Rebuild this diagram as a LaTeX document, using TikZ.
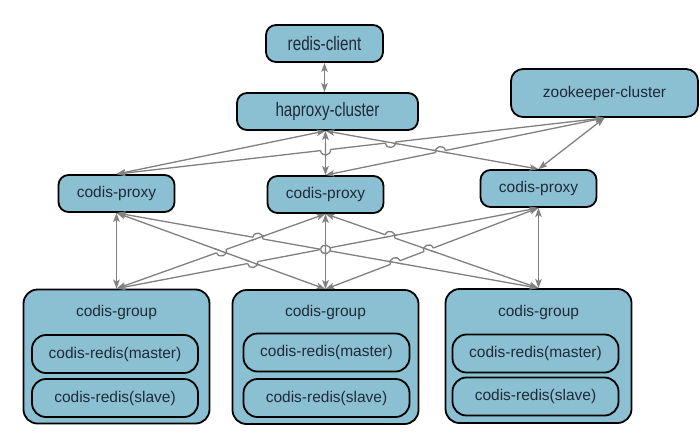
\documentclass[tikz,border=0pt]{standalone}
\usepackage{fontspec}
\setmainfont{Liberation Sans}
\newfontfamily\narrowfont{Liberation Sans}[FakeStretch=0.78]
\usetikzlibrary{arrows.meta,calc,intersections}
\definecolor{boxfill}{RGB}{139,192,211}
\definecolor{txt}{RGB}{32,42,56}
\definecolor{conn}{RGB}{128,128,128}
\tikzset{
  box/.style={draw=black, line width=1.8pt, fill=boxfill, rounded corners=10pt,
    inner sep=0pt, text=txt, font=\fontsize{15.5}{18}\selectfont},
  narrowbox/.style={box, font=\narrowfont\fontsize{19.5}{22}\selectfont},
  grpbox/.style={box, rounded corners=14pt, minimum width=186pt, minimum height=134pt},
  redisbox/.style={box, rounded corners=14pt, minimum width=166pt, minimum height=38pt},
  proxybox/.style={box, minimum width=116pt, minimum height=37pt},
  grplabel/.style={text=txt, font=\fontsize{15.5}{18}\selectfont, inner sep=0pt},
  wire/.style={draw=conn, line width=1.3pt},
  link/.style={wire, {Stealth[length=9pt,width=6.5pt,inset=2pt]}-{Stealth[length=9pt,width=6.5pt,inset=2pt]}},
  eraser/.style={draw=white, line width=3.5pt},
}
\begin{document}
\begin{tikzpicture}[x=1pt,y=-1pt]
\useasboundingbox (0,0) rectangle (700,434);
% top nodes
\node[narrowbox, minimum width=117pt, minimum height=37pt] (rc) at (324.5,43.5) {redis-client};
\node[narrowbox, minimum width=181pt, minimum height=37pt] (h) at (327.5,111.5) {haproxy-cluster};
\node[box, rounded corners=12pt, minimum width=187pt, minimum height=48pt] (z) at (604.5,93) {zookeeper-cluster};
% proxies
\node[proxybox] (p1) at (116.5,193.5) {codis-proxy};
\node[proxybox] (p2) at (325.5,194.5) {codis-proxy};
\node[proxybox] (p3) at (538.5,188.5) {codis-proxy};
% groups
\node[grpbox] (g1) at (116.5,356.5) {};
\node[grpbox] (g2) at (325.5,357) {};
\node[grpbox] (g3) at (538.5,356) {};
\node[grplabel] (g1l) at (116.5,312) {codis-group};
\node[grplabel] (g2l) at (325.5,312) {codis-group};
\node[grplabel] (g3l) at (538.5,312) {codis-group};
\node[redisbox] (m1) at (115,354) {codis-redis(master)};
\node[redisbox] (s1) at (115,398) {codis-redis(slave)};
\node[redisbox] (m2) at (326.5,352.5) {codis-redis(master)};
\node[redisbox] (s2) at (326.5,398) {codis-redis(slave)};
\node[redisbox] (m3) at (535.5,353.5) {codis-redis(master)};
\node[redisbox] (s3) at (535.5,396.5) {codis-redis(slave)};
\coordinate (hs) at (h.south -| p2.north);
% connectors
\draw[link] (rc.south) -- (rc.south |- h.north);
\draw[link] (hs) -- (p1.north);
\draw[link] (hs) -- (p2.north);
\draw[link] (hs) -- (p3.north);
\draw[link] (z.south) -- (p1.north);
\draw[link] (z.south) -- (p2.north);
\draw[link] (z.south) -- (p3.north);
\foreach \pp in {p1,p2,p3}{
  \foreach \gg in {g1,g2,g3}{
    \draw[link] (\pp.south) -- (\gg.north);
  }
}
% line jumps: A-start/A-end/B-start/B-end/angle1/angle2
\def\jumplist{
  p1.north/z.south/hs/p2.north/-90/90,
  p1.north/z.south/hs/p3.north/-90/90,
  p2.north/z.south/hs/p3.north/90/270,
  g1.north/p2.south/p1.south/g2.north/-90/90,
  p1.south/g3.north/p2.south/g1.north/90/270,
  g1.north/p3.south/p1.south/g2.north/-90/90,
  p1.south/g3.north/p2.south/g2.north/90/270,
  g1.north/p3.south/p2.south/g2.north/-90/90,
  p2.south/g3.north/p3.south/g1.north/90/270,
  g2.north/p3.south/p1.south/g3.north/90/270,
  g2.north/p3.south/p2.south/g3.north/90/270}
\foreach \ja/\jb/\jc/\jd/\ra/\rb in \jumplist{
  \path[name path=ja] (\ja) -- (\jb);
  \path[name path=jb] (\jc) -- (\jd);
  \path[name intersections={of=ja and jb, by=jx}];
  \draw[eraser] ($(jx)!5pt!(\ja)$) -- ($(jx)!5pt!(\jb)$);
}
\foreach \ja/\jb/\jc/\jd/\ra/\rb in \jumplist{
  \path[name path=ja] (\ja) -- (\jb);
  \path[name path=jb] (\jc) -- (\jd);
  \path[name intersections={of=ja and jb, by=jx}];
  \draw[wire] ($(jx)!7.5pt!(\jc)$) -- ($(jx)!7.5pt!(\jd)$);
}
\foreach \ja/\jb/\jc/\jd/\ra/\rb in \jumplist{
  \path[name path=ja] (\ja) -- (\jb);
  \path[name path=jb] (\jc) -- (\jd);
  \path[name intersections={of=ja and jb, by=jx}];
  \coordinate (jp) at ($(jx)!5pt!(\ja)$);
  \coordinate (jq) at ($(jx)!5pt!(\jb)$);
  \draw[wire] (jp) .. controls ($(jp)!6.6pt!\ra:(jq)$) and ($(jq)!6.6pt!\rb:(jp)$) .. (jq);
}
\end{tikzpicture}
\end{document}
